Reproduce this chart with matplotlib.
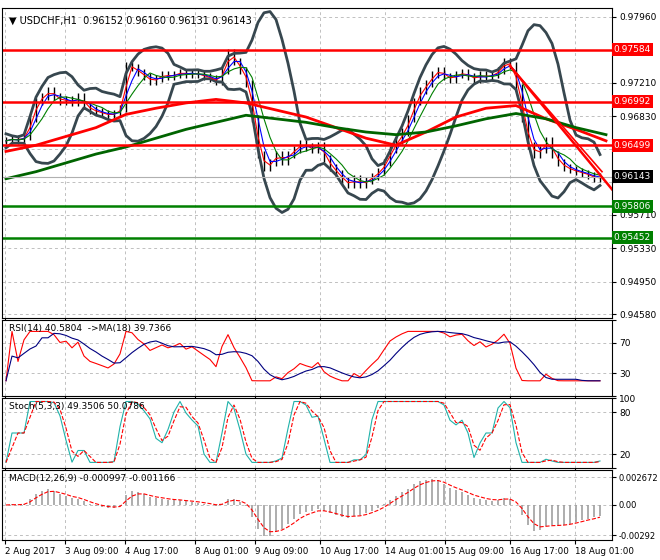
import numpy as np
import pandas as pd
import matplotlib.pyplot as plt

# closes, one value every 3 hourly bars
close = [0.9655, 0.9658, 0.9655, 0.9660, 0.9680, 0.9700, 0.9705, 0.9712, 0.9705, 0.9700,
         0.9702, 0.9698, 0.9705, 0.9695, 0.9690, 0.9688, 0.9686, 0.9684, 0.9686, 0.9692,
         0.9740, 0.9738, 0.9732, 0.9728, 0.9722, 0.9726, 0.9730, 0.9728, 0.9730, 0.9733,
         0.9730, 0.9732, 0.9730, 0.9728, 0.9726, 0.9722, 0.9735, 0.9755, 0.9745, 0.9735,
         0.9720, 0.9680, 0.9640, 0.9625, 0.9630, 0.9640, 0.9632, 0.9640, 0.9645, 0.9652,
         0.9648, 0.9645, 0.9650, 0.9635, 0.9625, 0.9618, 0.9610, 0.9605, 0.9612, 0.9605,
         0.9610, 0.9615, 0.9620, 0.9630, 0.9645, 0.9655, 0.9665, 0.9680, 0.9700, 0.9712,
         0.9720, 0.9730, 0.9735, 0.9728, 0.9725, 0.9730, 0.9732, 0.9728, 0.9725, 0.9730,
         0.9727, 0.9730, 0.9735, 0.9745, 0.9740, 0.9715, 0.9680, 0.9650, 0.9640, 0.9645,
         0.9655, 0.9640, 0.9630, 0.9625, 0.9622, 0.9620, 0.9618, 0.9616, 0.9612, 0.9614]
# slow moving averages, one value every 15 bars
ma_red = [0.9643, 0.9650, 0.9660, 0.9670, 0.9685, 0.9692, 0.9698, 0.9702, 0.9698, 0.9690,
          0.9682, 0.9670, 0.9658, 0.9650, 0.9665, 0.9682, 0.9692, 0.9695, 0.9680, 0.9668, 0.9655]
ma_green = [0.9612, 0.9620, 0.9630, 0.9640, 0.9648, 0.9658, 0.9668, 0.9676, 0.9684, 0.9680,
            0.9676, 0.9670, 0.9665, 0.9662, 0.9665, 0.9672, 0.9680, 0.9686, 0.9680, 0.9670, 0.9662]
red_levels = [0.97584, 0.96992, 0.96499]
green_levels = [0.95806, 0.95452]
last_price = 0.96143
price_ticks = [0.97960, 0.97210, 0.96830, 0.96460, 0.96080, 0.95710, 0.95330, 0.94950, 0.94580]
date_pos = [1.5, 31.5, 61.5, 96.5, 126.5, 159, 191.5, 221.5, 254, 286.5]
date_labels = ["2 Aug 2017", "3 Aug 09:00", "4 Aug 17:00", "8 Aug 01:00", "9 Aug 09:00",
               "10 Aug 17:00", "14 Aug 01:00", "15 Aug 09:00", "16 Aug 17:00", "18 Aug 01:00"]

s = pd.Series(close)
x = np.arange(len(close)) * 3 + 2
xm = np.arange(len(ma_red)) * 15 + 2

plt.rcParams['font.family'] = 'DejaVu Sans'
plt.rcParams['font.size'] = 6.5
fig = plt.figure(figsize=(6.6, 5.6), dpi=100)
W, H = 660, 560

def box(top, bottom):
    return fig.add_axes([2 / W, 1 - bottom / H, 610 / W, (bottom - top) / H])

def style(ax):
    ax.set_xlim(0, 305)
    ax.set_xticks(date_pos)
    ax.grid(True, color='#c0c0c0', linestyle=(0, (3, 3)), linewidth=0.7)
    ax.yaxis.tick_right()
    ax.tick_params(length=3, labelsize=6.5, pad=2)
    ax.set_xticklabels([])

# main price panel
ax = box(8, 318)
style(ax)
ax.set_ylim(0.94540, 0.98057)
ax.set_yticks(price_ticks)
ax.set_yticklabels(["" if v in (0.96460, 0.96080) else f"{v:.5f}" for v in price_ticks])
prev = s.shift(1).fillna(s[0])
ax.vlines(x, np.minimum(prev, s) - 0.0004, np.maximum(prev, s) + 0.0004, color='black', lw=1)
mid = s.rolling(9, min_periods=1).mean()
sd = s.rolling(9, min_periods=2).std().fillna(0.0004)
for b in (mid + 2 * sd, mid - 2 * sd):
    ax.plot(x, b, color='#37474f', lw=2)
ax.plot(x, s.rolling(2, min_periods=1).mean(), color='red', lw=0.8)
ax.plot(x, s.rolling(3, min_periods=1).mean(), color='blue', lw=0.8)
ax.plot(x, s.rolling(5, min_periods=1).mean(), color='green', lw=0.8)
ax.plot(xm, ma_red, color='red', lw=2)
ax.plot(xm, ma_green, color='#006400', lw=2)
for lv in red_levels:
    ax.axhline(lv, color='red', lw=1.8)
for lv in green_levels:
    ax.axhline(lv, color='green', lw=1.8)
ax.axhline(last_price, color='#b0b0b0', lw=0.8)
ax.plot([x[84], 305], [close[84], 0.9600], color='red', lw=1.8)
ax.plot([x[84], 300], [close[84], 0.9620], color='red', lw=1.2)
for lv, c in [(v, 'red') for v in red_levels] + [(v, 'green') for v in green_levels] + [(last_price, 'black')]:
    ax.text(1.003, lv, f"{lv:.5f}", transform=ax.get_yaxis_transform(), color='white', fontsize=6.5,
            va='center', ha='left', bbox=dict(facecolor=c, edgecolor='none', pad=1.5))
ax.text(0.012, 0.975, "▼ USDCHF,H1  0.96152 0.96160 0.96131 0.96143", transform=ax.transAxes,
        va='top', fontsize=7)

# RSI
delta = s.diff().fillna(0)
up = delta.clip(lower=0).ewm(alpha=1 / 6, adjust=False).mean()
dn = (-delta.clip(upper=0)).ewm(alpha=1 / 6, adjust=False).mean()
rsi = (100 - 100 / (1 + up / dn.replace(0, 1e-9))).clip(20, 85)
ax2 = box(320, 396)
style(ax2)
ax2.set_ylim(0, 100)
ax2.set_yticks([100, 70, 30, 0])
ax2.set_yticklabels(["", "70", "30", ""])
ax2.plot(x, rsi, color='red', lw=0.8)
ax2.plot(x, rsi.rolling(6, min_periods=1).mean(), color='navy', lw=0.8)
ax2.text(0.012, 0.95, "RSI(14) 40.5804  ->MA(18) 39.7366", transform=ax2.transAxes, va='top')

# Stochastic
lo = s.rolling(6, min_periods=1).min()
hi = s.rolling(6, min_periods=1).max()
k = (100 * (s - lo) / (hi - lo).replace(0, 1e-9)).rolling(2, min_periods=1).mean().clip(8, 95)
ax3 = box(398, 468)
style(ax3)
ax3.set_ylim(0, 100)
ax3.set_yticks([100, 80, 20, 0])
ax3.set_yticklabels(["100", "80", "20", ""])
ax3.plot(x, k, color='#20b2aa', lw=0.8)
ax3.plot(x, k.rolling(2, min_periods=1).mean(), color='red', lw=0.8, ls='--')
ax3.text(0.012, 0.95, "Stoch(5,3,3) 49.3506 50.0786", transform=ax3.transAxes, va='top')

# MACD
macd = s.ewm(span=4, adjust=False).mean() - s.ewm(span=9, adjust=False).mean()
sig = macd.ewm(span=3, adjust=False).mean()
ax4 = box(470, 540)
style(ax4)
ax4.set_ylim(-0.0034, 0.0034)
ax4.set_yticks([0.002672, 0.0, -0.002928])
ax4.set_yticklabels(["0.002672", "0.00", "-0.00292"], fontsize=6)
ax4.vlines(x, 0, macd, color='#a0a0a0', lw=1.2)
ax4.plot(x, sig, color='red', lw=0.8, ls='--')
ax4.text(0.012, 0.95, "MACD(12,26,9) -0.000997 -0.001166", transform=ax4.transAxes, va='top')
ax4.set_xticklabels(date_labels, fontsize=6.3)
for lab in ax4.get_xticklabels():
    lab.set_ha('left')

fig.savefig("out.png", dpi=100)
